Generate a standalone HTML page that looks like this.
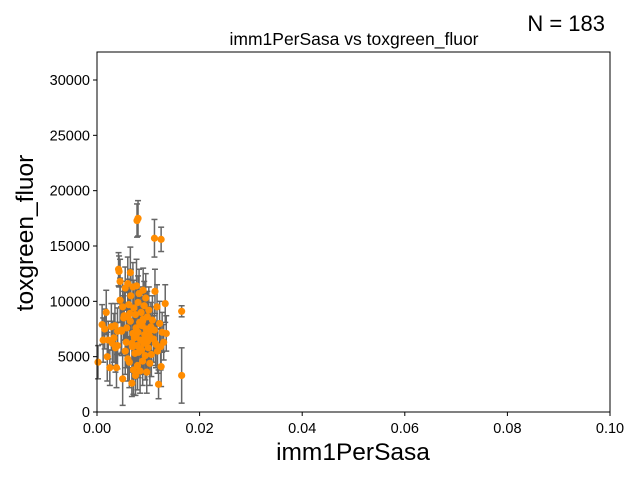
<!DOCTYPE html>
<html><head><meta charset="utf-8"><style>
body{margin:0;background:#fff;font-family:"Liberation Sans","DejaVu Sans",sans-serif}
</style></head><body>
<svg id="chart" width="640" height="480" xmlns="http://www.w3.org/2000/svg">
<rect width="640" height="480" fill="#fff"/>
<g id="marks"></g>
<rect x="97" y="52" width="513" height="360" fill="none" stroke="#000" stroke-width="1"/>
<g id="axes" font-size="14.5"></g>
<text x="354" y="45" text-anchor="middle" font-size="17.5">imm1PerSasa vs toxgreen_fluor</text>
<text x="605" y="31" text-anchor="end" font-size="22">N = 183</text>
<text x="353" y="460" text-anchor="middle" font-size="24.5">imm1PerSasa</text>
<text transform="translate(33,233) rotate(-90)" text-anchor="middle" font-size="24.5">toxgreen_fluor</text>
</svg>
<script>
const xTicks=[0,0.02,0.04,0.06,0.08,0.10];
const xTickLabels=["0.00","0.02","0.04","0.06","0.08","0.10"];
const yTicks=[0,5000,10000,15000,20000,25000,30000];
const xVals=[0.0080,0.0078,0.0112,0.0125,0.0165,0.0165,0.0002,0.0012,0.0015,0.0018,0.0022,0.0025,0.0030,0.0035,0.0038,0.0040,0.0042,0.0043,0.0045,0.0045,0.0048,0.0050,0.0050,0.0052,0.0055,0.0055,0.0058,0.0060,0.0060,0.0062,0.0063,0.0065,0.0065,0.0066,0.0068,0.0068,0.0070,0.0070,0.0071,0.0072,0.0073,0.0074,0.0075,0.0075,0.0076,0.0077,0.0078,0.0079,0.0080,0.0080,0.0081,0.0082,0.0083,0.0084,0.0085,0.0086,0.0087,0.0088,0.0089,0.0090,0.0090,0.0091,0.0092,0.0093,0.0094,0.0095,0.0096,0.0097,0.0098,0.0099,0.0100,0.0101,0.0102,0.0103,0.0105,0.0106,0.0108,0.0110,0.0112,0.0113,0.0115,0.0117,0.0118,0.0120,0.0122,0.0125,0.0127,0.0130,0.0133,0.0135,0.0010,0.0020,0.0028,0.0033,0.0036,0.0047,0.0053,0.0057,0.0064,0.0069,0.0072,0.0076,0.0085,0.0089,0.0095,0.0104,0.0114,0.0124,0.0040,0.0060];
const yVals=[17500,17300,15700,15600,9100,3300,4500,6500,7500,9000,6500,4000,6200,7800,4000,6000,12900,12700,11800,10100,7300,9500,3000,8500,11200,5500,7600,11600,4800,9700,4500,12600,8200,10500,6200,2600,11300,7100,3800,9400,6700,5300,8800,3300,7600,11400,6000,4200,9900,7200,5400,10700,8100,3700,6500,9000,5600,7800,4600,11000,8400,6200,9600,7000,5100,10300,7500,3600,8600,6400,5800,9200,6900,4400,7700,5200,8300,6600,7400,10900,6100,9500,5500,2500,8000,4100,7200,6300,9800,7100,7900,5000,7700,6700,5800,7400,8700,6300,8900,5900,7000,6800,5700,8200,6600,7400,6200,5900,7300,8600];
const yErr=[1600,1500,1700,1100,500,2500,1500,2000,1800,2000,1700,1600,2000,2000,1800,2100,1500,1400,2000,2000,2200,2300,2400,2000,1900,2100,2300,2400,2000,2300,2300,2300,2300,2400,2200,1200,2200,2300,2200,2500,2300,2300,2300,1800,2200,2400,2300,2200,2400,2200,2300,2200,2200,2000,2300,2300,2200,2300,2200,2000,2300,2400,2200,2300,2200,2200,2200,1900,2300,2200,2200,2100,2200,2000,2200,2000,2200,2100,2100,2000,2100,2000,2000,1300,2000,1800,1800,1600,1700,1600,1800,2200,2100,2200,2200,2100,2200,2300,2200,2300,2300,2200,2200,2200,2200,2100,2000,2100,2100,2200];
const X0=97,X1=610,Y0=412,PXPER=332/30000;
const xs=v=>X0+(v/0.10)*(X1-X0);
const ys=v=>Y0-v*PXPER;
const NS="http://www.w3.org/2000/svg";
const marks=document.getElementById('marks'),axes=document.getElementById('axes');
function mk(t,a){const e=document.createElementNS(NS,t);for(const k in a)e.setAttribute(k,a[k]);return e;}
xTicks.forEach((t,i)=>{
 const l=mk('line',{x1:xs(t),x2:xs(t),y1:412,y2:416,stroke:'#000'});
 
 
 axes.appendChild(l);
 const tx=mk('text',{x:xs(t),y:433,'text-anchor':'middle'});tx.textContent=xTickLabels[i];
 
 
 axes.appendChild(tx);
});
yTicks.forEach(t=>{
 const l=mk('line',{x1:93,x2:97,y1:ys(t),y2:ys(t),stroke:'#000'});
 
 
 axes.appendChild(l);
 const tx=mk('text',{x:90,y:ys(t)+5,'text-anchor':'end'});tx.textContent=t;
 
 
 axes.appendChild(tx);
});
xVals.forEach((xv,i)=>{
 const g=mk('g',{});
 
 
 const cx=xs(xv),t=ys(yVals[i]+yErr[i]),b=ys(Math.max(0,yVals[i]-yErr[i]));
 g.appendChild(mk('line',{x1:cx,x2:cx,y1:t,y2:b,stroke:'#666','stroke-width':1.5}));
 g.appendChild(mk('line',{x1:cx-3,x2:cx+3,y1:t,y2:t,stroke:'#666','stroke-width':1.5}));
 g.appendChild(mk('line',{x1:cx-3,x2:cx+3,y1:b,y2:b,stroke:'#666','stroke-width':1.5}));
 marks.appendChild(g);
});
xVals.forEach((xv,i)=>{
 const c=mk('circle',{cx:xs(xv),cy:ys(yVals[i]),r:3.6,fill:'#ff8c00'});
 
 
 marks.appendChild(c);
});
</script>
</body></html>
